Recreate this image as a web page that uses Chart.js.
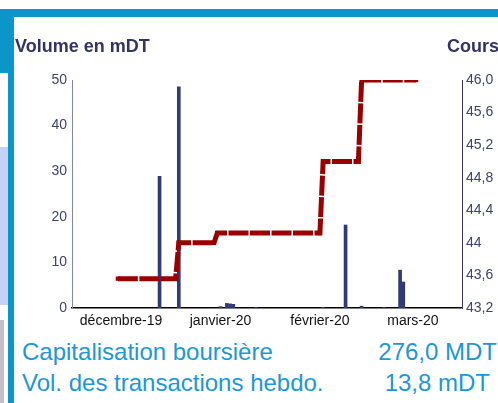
<!DOCTYPE html>
<html>
<head>
<meta charset="utf-8">
<script src="https://cdn.jsdelivr.net/npm/chart.js@4.4.1/dist/chart.umd.min.js"></script>
<style>
  html, body { margin: 0; padding: 0; background: #fff; }
  body { width: 498px; height: 403px; position: relative; overflow: hidden; font-family: 'Liberation Sans', Arial, sans-serif; }
  .blk { position: absolute; }
  #wrap { position: absolute; left: 0; top: 0; width: 498px; height: 332px; }
  .ttl { position: absolute; top: 36px; font-weight: bold; font-size: 18px; color: #333366; white-space: nowrap; }
  .big { position: absolute; font-size: 24px; color: #1c97d8; white-space: nowrap; line-height: 1; }
</style>
</head>
<body>
<!-- frame bits -->
<div class="blk" style="left:0;top:9px;width:498px;height:8px;background:#0a96c8"></div>
<div class="blk" style="left:0;top:9px;width:14px;height:64px;background:#0a96c8"></div>
<div class="blk" style="left:8px;top:9px;width:6px;height:394px;background:#0a96c8"></div>
<div class="blk" style="left:0;top:147px;width:8px;height:158px;background:#c8d0f8"></div>
<div class="blk" style="left:0;top:320px;width:4px;height:83px;background:#c0c0c0"></div>

<div id="wrap"><canvas id="c" width="498" height="332"></canvas></div>

<div class="ttl" style="left:15px">Volume en mDT</div>
<div class="ttl" style="left:447px">Cours</div>

<div class="big" style="left:22px;top:340px">Capitalisation boursière</div>
<div class="big" style="right:1px;top:340px">276,0 MDT</div>
<div class="big" style="left:22px;top:371px">Vol. des transactions hebdo.</div>
<div class="big" style="right:8px;top:371px">13,8 mDT</div>

<script>
// volume bars (mDT)
var volDates = ['2019-12-13', '2019-12-19', '2020-01-01', '2020-01-03', '2020-01-04', '2020-01-05',
                '2020-01-12', '2020-02-02', '2020-02-09', '2020-02-14', '2020-02-21', '2020-02-26', '2020-02-27'];
var volValues = [28.9, 48.5, 0.3, 1.0, 0.9, 0.8, 0.1, 0.1, 18.2, 0.4, 0.1, 8.3, 5.7];

// share price (corner points of the step line)
var coursDates = ['2019-11-30', '2019-12-18', '2019-12-19', '2019-12-30', '2019-12-31',
                  '2020-02-01', '2020-02-02', '2020-02-13', '2020-02-14', '2020-03-02'];
var coursValues = [43.56, 43.56, 44.0, 44.0, 44.12, 44.12, 45.0, 45.0, 46.0, 46.0];

// axis labels
var monthDates = ['2019-12-01', '2020-01-01', '2020-02-01', '2020-03-01'];
var monthLabels = ['décembre-19', 'janvier-20', 'février-20', 'mars-20'];
var coursTickLabels = ['43,2', '43,6', '44', '44,4', '44,8', '45,2', '45,6', '46,0'];

// days since 1 Dec 2019
function dayOf(s) {
  var p = s.split('-');
  return (Date.UTC(+p[0], +p[1] - 1, +p[2]) - Date.UTC(2019, 11, 1)) / 86400000;
}
function pairs(ds, vs) {
  return ds.map(function (d, i) { return { x: dayOf(d), y: vs[i] }; });
}
var monthDays = monthDates.map(dayOf);

Chart.defaults.font.family = "'Liberation Sans', Arial, sans-serif";

new Chart(document.getElementById('c'), {
  type: 'bar',
  data: {
    datasets: [
      {
        type: 'line',
        data: pairs(coursDates, coursValues),
        yAxisID: 'y1',
        borderColor: '#990000',
        borderWidth: 5,
        borderDash: [20, 1.5],
        borderCapStyle: 'butt',
        tension: 0,
        pointStyle: 'rect',
        pointRadius: 3,
        pointBackgroundColor: '#990000',
        pointBorderWidth: 0,
        order: 0
      },
      {
        data: pairs(volDates, volValues),
        yAxisID: 'y',
        backgroundColor: '#313a72',
        barThickness: 3,
        order: 1
      }
    ]
  },
  options: {
    responsive: false,
    animation: false,
    layout: { padding: { top: 80, left: 0, right: 0, bottom: 0 } },
    plugins: { legend: { display: false }, tooltip: { enabled: false } },
    scales: {
      x: {
        type: 'linear',
        offset: false,
        min: -15.3,
        max: 106.3,
        grid: { display: false, drawTicks: false },
        border: { color: '#000', width: 1.5 },
        afterBuildTicks: function (s) { s.ticks = monthDays.map(function (v) { return { value: v }; }); },
        afterFit: function (s) { s.height = 24; },
        ticks: {
          autoSkip: false,
          maxRotation: 0,
          padding: 5,
          color: '#111',
          font: { size: 14 },
          callback: function (v) { return monthLabels[monthDays.indexOf(v)]; }
        }
      },
      y: {
        position: 'left',
        min: 0,
        max: 50,
        grid: { display: false, drawTicks: false },
        border: { color: '#8088b0', width: 1 },
        afterFit: function (s) { s.width = 72; },
        ticks: { stepSize: 10, padding: 5, color: '#3d4270', font: { size: 14 } }
      },
      y1: {
        position: 'right',
        min: 43.2,
        max: 46.0,
        grid: { display: false, drawTicks: false },
        border: { color: '#333366', width: 1 },
        afterFit: function (s) { s.width = 36; },
        ticks: {
          stepSize: 0.4,
          padding: 4,
          color: '#3d4270',
          font: { size: 14 },
          callback: function (v, i) { return coursTickLabels[i]; }
        }
      }
    }
  }
});
</script>
</body>
</html>
